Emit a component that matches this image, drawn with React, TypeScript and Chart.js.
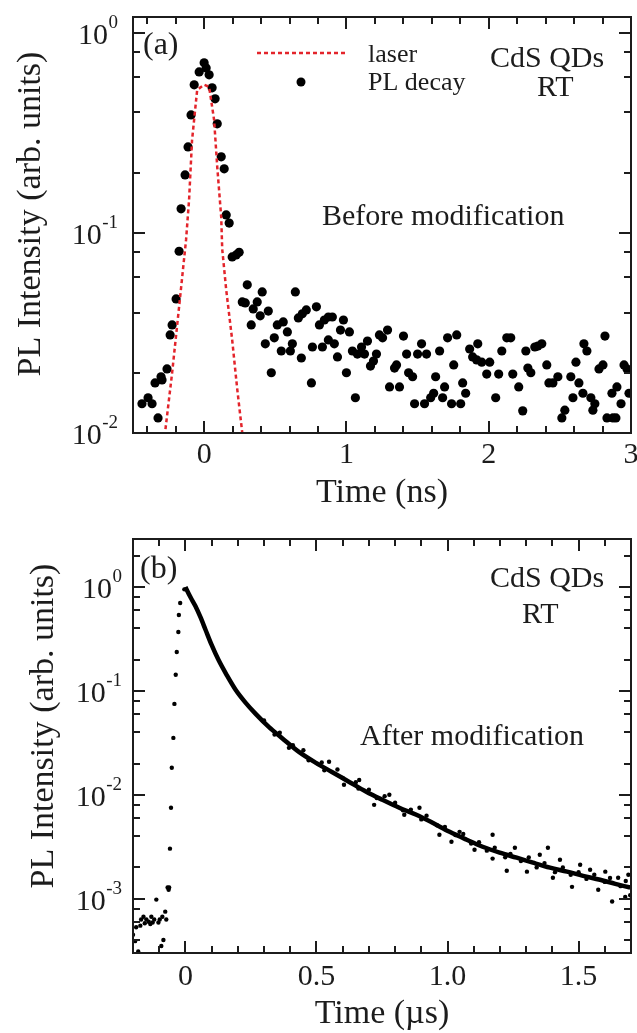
import React, { useEffect, useRef } from "react";
import { Chart, registerables } from "chart.js";
Chart.register(...registerables);

const SERIF = '"Liberation Serif", "Times New Roman", serif';
const INK = "#1c1c1c";

type Pt = [number, number];

// ---------- Panel (a): before modification (time in ns) ----------
const laserPulse: Pt[] = [
  [-0.3, 0.007], [-0.275, 0.01], [-0.225, 0.02], [-0.176, 0.0427], [-0.127, 0.0925],
  [-0.106, 0.146], [-0.085, 0.291], [-0.049, 0.519], [0, 0.55], [0.035, 0.537],
  [0.07, 0.367], [0.092, 0.214], [0.12, 0.12], [0.127, 0.083], [0.155, 0.052],
  [0.197, 0.0292], [0.232, 0.0167], [0.268, 0.01], [0.29, 0.008],
];

const plDecayA: Pt[] = [
  [-0.437, 0.014], [-0.394, 0.015], [-0.366, 0.014], [-0.345, 0.0178], [-0.324, 0.0119],
  [-0.303, 0.0191], [-0.296, 0.0184], [-0.261, 0.0209], [-0.239, 0.0309], [-0.225, 0.0347],
  [-0.197, 0.0468], [-0.176, 0.081], [-0.162, 0.132], [-0.134, 0.195], [-0.113, 0.269],
  [-0.092, 0.389], [-0.07, 0.55], [-0.035, 0.638], [0, 0.708], [0.014, 0.668],
  [0.035, 0.617], [0.056, 0.531], [0.077, 0.468], [0.092, 0.351], [0.12, 0.24],
  [0.141, 0.209], [0.155, 0.123], [0.176, 0.112], [0.197, 0.0759], [0.225, 0.0776],
  [0.246, 0.08], [0.268, 0.0452], [0.289, 0.0447], [0.303, 0.055], [0.331, 0.0347],
  [0.345, 0.0417], [0.373, 0.0452], [0.394, 0.0385], [0.408, 0.0507], [0.43, 0.0279],
  [0.451, 0.0407], [0.472, 0.02], [0.493, 0.0299], [0.514, 0.0347], [0.542, 0.0257],
  [0.556, 0.0359], [0.585, 0.032], [0.606, 0.0257], [0.62, 0.0279], [0.641, 0.0507],
  [0.662, 0.0376], [0.683, 0.0237], [0.69, 0.0394], [0.718, 0.0412], [0.754, 0.0178],
  [0.761, 0.0269], [0.789, 0.0427], [0.81, 0.0347], [0.831, 0.0269], [0.845, 0.0367],
  [0.873, 0.038], [0.873, 0.0292], [0.901, 0.038], [0.915, 0.0279], [0.937, 0.024],
  [0.958, 0.0327], [0.979, 0.0367], [1.0, 0.02], [1.021, 0.032], [1.042, 0.0257],
  [1.063, 0.015], [1.077, 0.0248], [1.106, 0.0269], [1.127, 0.0248], [1.148, 0.0288],
  [1.169, 0.0216], [1.19, 0.0229], [1.211, 0.0248], [1.232, 0.0309], [1.254, 0.0299],
  [1.289, 0.0327], [1.303, 0.017], [1.338, 0.0211], [1.352, 0.0219], [1.373, 0.017],
  [1.401, 0.0305], [1.423, 0.0248], [1.437, 0.02], [1.465, 0.0191], [1.479, 0.014],
  [1.5, 0.0248], [1.528, 0.0279], [1.549, 0.014], [1.563, 0.0248], [1.592, 0.015],
  [1.613, 0.0158], [1.627, 0.0191], [1.655, 0.0257], [1.676, 0.015], [1.69, 0.017],
  [1.711, 0.0299], [1.739, 0.014], [1.754, 0.0219], [1.775, 0.0309], [1.803, 0.014],
  [1.817, 0.0178], [1.838, 0.0158], [1.866, 0.0263], [1.887, 0.024], [1.915, 0.0232],
  [1.923, 0.0279], [1.951, 0.0226], [1.986, 0.0197], [2.007, 0.0226], [2.049, 0.015],
  [2.07, 0.0197], [2.092, 0.0257], [2.127, 0.0299], [2.155, 0.0299], [2.169, 0.0197],
  [2.211, 0.017], [2.239, 0.0129], [2.261, 0.0257], [2.275, 0.0211], [2.296, 0.02],
  [2.324, 0.0269], [2.345, 0.0272], [2.373, 0.0279], [2.408, 0.0219], [2.423, 0.0178],
  [2.451, 0.0178], [2.486, 0.0191], [2.514, 0.0119], [2.535, 0.013], [2.577, 0.0191],
  [2.592, 0.015], [2.613, 0.0226], [2.634, 0.0178], [2.662, 0.0158], [2.669, 0.0279],
  [2.69, 0.0257], [2.718, 0.015], [2.732, 0.013], [2.746, 0.014], [2.775, 0.0209],
  [2.803, 0.0219], [2.817, 0.0305], [2.831, 0.0119], [2.866, 0.0158], [2.873, 0.0119],
  [2.894, 0.0119], [2.901, 0.017], [2.93, 0.014], [2.951, 0.0219], [2.972, 0.0209],
  [2.986, 0.0158],
];

const aXTicks = [0, 1, 2, 3];
const aXTickLabels = ["0", "1", "2", "3"];
const aYDecades = [-2, -1, 0];

// ---------- Panel (b): after modification (time in µs) ----------
const riseB: Pt[] = [
  [-0.207, 0.00059], [-0.2, 0.00045], [-0.192, 0.00039], [-0.188, 0.00053], [-0.18, 0.00031],
  [-0.172, 0.00055], [-0.169, 0.00063], [-0.16, 0.00067], [-0.155, 0.00058], [-0.149, 0.00063],
  [-0.14, 0.0006], [-0.134, 0.00057], [-0.13, 0.00067], [-0.125, 0.00059], [-0.119, 0.00063],
  [-0.111, 0.00098], [-0.103, 0.00059], [-0.098, 0.00063], [-0.092, 0.00035], [-0.088, 0.00067],
  [-0.084, 0.0004], [-0.077, 0.00075], [-0.073, 0.00063], [-0.068, 0.00128], [-0.064, 0.00122],
  [-0.062, 0.00128], [-0.059, 0.00303], [-0.055, 0.0075], [-0.052, 0.0182], [-0.046, 0.0353],
  [-0.042, 0.075], [-0.037, 0.143], [-0.033, 0.237], [-0.027, 0.369], [-0.025, 0.538],
  [-0.02, 0.702], [-0.004, 0.95],
];

const decayB: Pt[] = [
  [0, 1.0], [0.019, 0.801], [0.038, 0.657], [0.057, 0.515], [0.077, 0.386], [0.1, 0.277],
  [0.126, 0.199], [0.157, 0.143], [0.192, 0.102], [0.23, 0.0767], [0.268, 0.0601],
  [0.318, 0.0451], [0.368, 0.0353], [0.433, 0.0259], [0.498, 0.0203], [0.559, 0.0166],
  [0.625, 0.0133], [0.69, 0.0107], [0.751, 0.00896], [0.816, 0.0075], [0.881, 0.00643],
  [0.943, 0.00538], [1.008, 0.0044], [1.073, 0.00369], [1.134, 0.00316], [1.199, 0.00277],
  [1.264, 0.00248], [1.326, 0.00222], [1.391, 0.00199], [1.456, 0.00182], [1.517, 0.00166],
  [1.582, 0.00152], [1.64, 0.00139], [1.697, 0.00128],
];

// points spread along the edges of the dense decay band
const bandB: Pt[] = [
  [0.3, 0.052], [0.34, 0.038], [0.36, 0.0395], [0.41, 0.03], [0.45, 0.0268], [0.47, 0.0215],
  [0.52, 0.0205], [0.53, 0.0172], [0.58, 0.0175], [0.6, 0.0145], [0.65, 0.0132], [0.66, 0.0115],
  [0.7, 0.0112], [0.73, 0.0093], [0.76, 0.0097], [0.8, 0.0084], [0.83, 0.0071], [0.86, 0.0072],
  [0.9, 0.0058], [0.92, 0.0063], [0.96, 0.0051], [0.99, 0.0049], [1.03, 0.0041], [1.06, 0.0042],
  [1.09, 0.0034], [1.12, 0.0035], [1.15, 0.0029], [1.18, 0.0031], [1.22, 0.0025], [1.24, 0.0027],
  [1.28, 0.0023], [1.31, 0.0025], [1.34, 0.002], [1.37, 0.0022], [1.41, 0.0018], [1.44, 0.002],
  [1.47, 0.0017], [1.5, 0.0018], [1.53, 0.00155], [1.56, 0.0017], [1.6, 0.00145], [1.62, 0.00158],
  [1.66, 0.00132], [1.68, 0.00148],
];

const scatterB: Pt[] = [
  [0.395, 0.0283], [0.548, 0.0208], [0.605, 0.0125], [0.663, 0.0139], [0.72, 0.008],
  [0.778, 0.01], [0.835, 0.00643], [0.893, 0.0075], [0.969, 0.00412], [1.015, 0.00353],
  [1.046, 0.0044], [1.103, 0.00296], [1.172, 0.00412], [1.172, 0.00243], [1.226, 0.00186],
  [1.257, 0.00309], [1.303, 0.00182], [1.352, 0.00265], [1.383, 0.00309], [1.402, 0.00159],
  [1.429, 0.00237], [1.475, 0.0013], [1.506, 0.00212], [1.544, 0.0019], [1.575, 0.00122],
  [1.602, 0.00182], [1.628, 0.00094], [1.651, 0.00159], [1.678, 0.00104], [1.69, 0.0017],
  [1.697, 0.00108],
];

const bXTicks = [0, 0.5, 1.0, 1.5];
const bXTickLabels = ["0", "0.5", "1.0", "1.5"];
const bYDecades = [-3, -2, -1, 0];

type Txt = { s: string; x: number; y: number; size: number; align?: CanvasTextAlign };

interface PanelCfg {
  height: number;
  padding: { left: number; right: number; top: number; bottom: number };
  xMin: number; xMax: number; yMin: number; yMax: number;
  xTicks: number[]; xTickLabels: string[]; xMinorStep: number;
  yDecades: number[];
  yLabelRight: number;
  xLabelBaseline: number;
  xTitle: string; xTitleBaseline: number;
  yTitle: string; yTitleX: number; yTitleY: number;
  texts: Txt[];
  legend: boolean;
  datasets: any[];
}

const toXY = (pts: Pt[]) => pts.map(([x, y]) => ({ x, y }));

function makePlugin(p: PanelCfg) {
  return {
    id: "originFrame",
    afterDraw(chart: any) {
      const ctx: CanvasRenderingContext2D = chart.ctx;
      const { left, right, top, bottom } = chart.chartArea;
      const xs = chart.scales.x;
      const ys = chart.scales.y;
      ctx.save();
      ctx.strokeStyle = INK;
      ctx.lineWidth = 2;
      ctx.strokeRect(left, top, right - left, bottom - top);
      const seg = (x1: number, y1: number, x2: number, y2: number) => {
        ctx.beginPath(); ctx.moveTo(x1, y1); ctx.lineTo(x2, y2); ctx.stroke();
      };
      const n0 = Math.ceil(p.xMin / p.xMinorStep - 1e-9);
      const n1 = Math.floor(p.xMax / p.xMinorStep + 1e-9);
      for (let i = n0; i <= n1; i++) {
        const v = i * p.xMinorStep;
        const major = p.xTicks.some((m) => Math.abs(m - v) < 1e-6);
        const len = major ? 12 : 7;
        const px = Math.round(xs.getPixelForValue(v));
        seg(px, bottom, px, bottom - len);
        seg(px, top, px, top + len);
      }
      const d0 = Math.floor(Math.log10(p.yMin));
      const d1 = Math.ceil(Math.log10(p.yMax));
      for (let d = d0; d <= d1; d++) {
        for (const m of [1, 2, 4, 6, 8]) {
          const v = m * Math.pow(10, d);
          if (v < p.yMin * 0.999 || v > p.yMax * 1.001) continue;
          const len = m === 1 ? 12 : 7;
          const py = Math.round(ys.getPixelForValue(v));
          seg(left, py, left + len, py);
          seg(right, py, right - len, py);
        }
      }
      ctx.fillStyle = INK;
      ctx.textBaseline = "alphabetic";
      for (const d of p.yDecades) {
        const py = ys.getPixelForValue(Math.pow(10, d));
        const exp = d === 0 ? "0" : "-" + String(-d);
        ctx.font = `19px ${SERIF}`;
        const ew = ctx.measureText(exp).width;
        ctx.textAlign = "left";
        ctx.fillText(exp, p.yLabelRight - ew, py - 5);
        ctx.font = `30px ${SERIF}`;
        ctx.textAlign = "right";
        ctx.fillText("10", p.yLabelRight - ew - 0.5, py + 11);
      }
      ctx.font = `30px ${SERIF}`;
      ctx.textAlign = "center";
      p.xTicks.forEach((v, i) => {
        ctx.fillText(p.xTickLabels[i], xs.getPixelForValue(v), p.xLabelBaseline);
      });
      ctx.font = `34px ${SERIF}`;
      ctx.textAlign = "center";
      ctx.fillText(p.xTitle, (left + right) / 2, p.xTitleBaseline);
      ctx.save();
      ctx.translate(p.yTitleX, p.yTitleY);
      ctx.rotate(-Math.PI / 2);
      ctx.fillText(p.yTitle, 0, 0);
      ctx.restore();
      for (const t of p.texts) {
        ctx.font = `${t.size}px ${SERIF}`;
        ctx.textAlign = t.align || "left";
        ctx.fillText(t.s, t.x, t.y);
      }
      if (p.legend) {
        ctx.strokeStyle = "#e3242b";
        ctx.lineWidth = 2.5;
        ctx.setLineDash([4, 3]);
        seg(257, 53, 345, 53);
        ctx.setLineDash([]);
        ctx.fillStyle = "#000";
        ctx.beginPath();
        ctx.arc(301, 82, 4.5, 0, Math.PI * 2);
        ctx.fill();
      }
      ctx.restore();
    },
  };
}

function Panel({ cfg }: { cfg: PanelCfg }) {
  const ref = useRef<HTMLCanvasElement>(null);
  useEffect(() => {
    const chart = new Chart(ref.current as HTMLCanvasElement, {
      type: "scatter",
      data: { datasets: cfg.datasets },
      options: {
        responsive: false,
        animation: false,
        layout: { padding: cfg.padding },
        plugins: { legend: { display: false }, tooltip: { enabled: false } },
        scales: {
          x: { type: "linear", min: cfg.xMin, max: cfg.xMax, display: false },
          y: { type: "logarithmic", min: cfg.yMin, max: cfg.yMax, display: false },
        },
      },
      plugins: [makePlugin(cfg)],
    } as any);
    return () => chart.destroy();
  }, []);
  return (
    <canvas
      ref={ref}
      width={637}
      height={cfg.height}
      style={{ display: "block", width: 637, height: cfg.height }}
    />
  );
}

const dots = (label: string, pts: Pt[], r: number) => ({
  label,
  data: toXY(pts),
  pointRadius: r,
  pointBackgroundColor: "#000",
  pointBorderWidth: 0,
  showLine: false,
  clip: 0,
});

const panelA: PanelCfg = {
  height: 510,
  padding: { left: 133, right: 6, top: 17, bottom: 77 },
  xMin: -0.5, xMax: 3, yMin: 0.01, yMax: 1.2,
  xTicks: aXTicks, xTickLabels: aXTickLabels, xMinorStep: 0.2,
  yDecades: aYDecades,
  yLabelRight: 118,
  xLabelBaseline: 463,
  xTitle: "Time (ns)", xTitleBaseline: 502,
  yTitle: "PL Intensity (arb. units)", yTitleX: 40, yTitleY: 214,
  texts: [
    { s: "(a)", x: 143, y: 54, size: 32 },
    { s: "laser", x: 368, y: 62, size: 26 },
    { s: "PL decay", x: 368, y: 90, size: 26 },
    { s: "CdS QDs", x: 490, y: 67, size: 30 },
    { s: "RT", x: 537, y: 96, size: 30 },
    { s: "Before modification", x: 322, y: 225, size: 30 },
  ],
  legend: true,
  datasets: [
    {
      label: "laser",
      data: toXY(laserPulse),
      showLine: true,
      borderColor: "#e3242b",
      borderWidth: 2.5,
      borderDash: [4, 3],
      pointRadius: 0,
      clip: 0,
      order: 0,
    },
    { ...dots("PL decay", plDecayA, 4.6), order: 1 },
  ],
};

const panelB: PanelCfg = {
  height: 523,
  padding: { left: 133, right: 6, top: 29, bottom: 80 },
  xMin: -0.2, xMax: 1.7, yMin: 3.03e-4, yMax: 2.9,
  xTicks: bXTicks, xTickLabels: bXTickLabels, xMinorStep: 0.1,
  yDecades: bYDecades,
  yLabelRight: 122,
  xLabelBaseline: 475,
  xTitle: "Time (µs)", xTitleBaseline: 513,
  yTitle: "PL Intensity (arb. units)", yTitleX: 53, yTitleY: 216,
  texts: [
    { s: "(b)", x: 140, y: 68, size: 32 },
    { s: "CdS QDs", x: 490, y: 77, size: 30 },
    { s: "RT", x: 522, y: 113, size: 30 },
    { s: "After modification", x: 360, y: 235, size: 30 },
  ],
  legend: false,
  datasets: [
    {
      label: "decay",
      data: toXY(decayB),
      showLine: true,
      borderColor: "#000",
      borderWidth: 4.5,
      cubicInterpolationMode: "monotone",
      pointRadius: 0,
      clip: 0,
    },
    dots("band", bandB, 2.2),
    dots("rise", riseB, 2.2),
    dots("scatter", scatterB, 2.2),
  ],
};

export default function App() {
  return (
    <div style={{ position: "absolute", left: 0, top: 0, width: 637, height: 1033, background: "#fff" }}>
      <Panel cfg={panelA} />
      <Panel cfg={panelB} />
    </div>
  );
}
